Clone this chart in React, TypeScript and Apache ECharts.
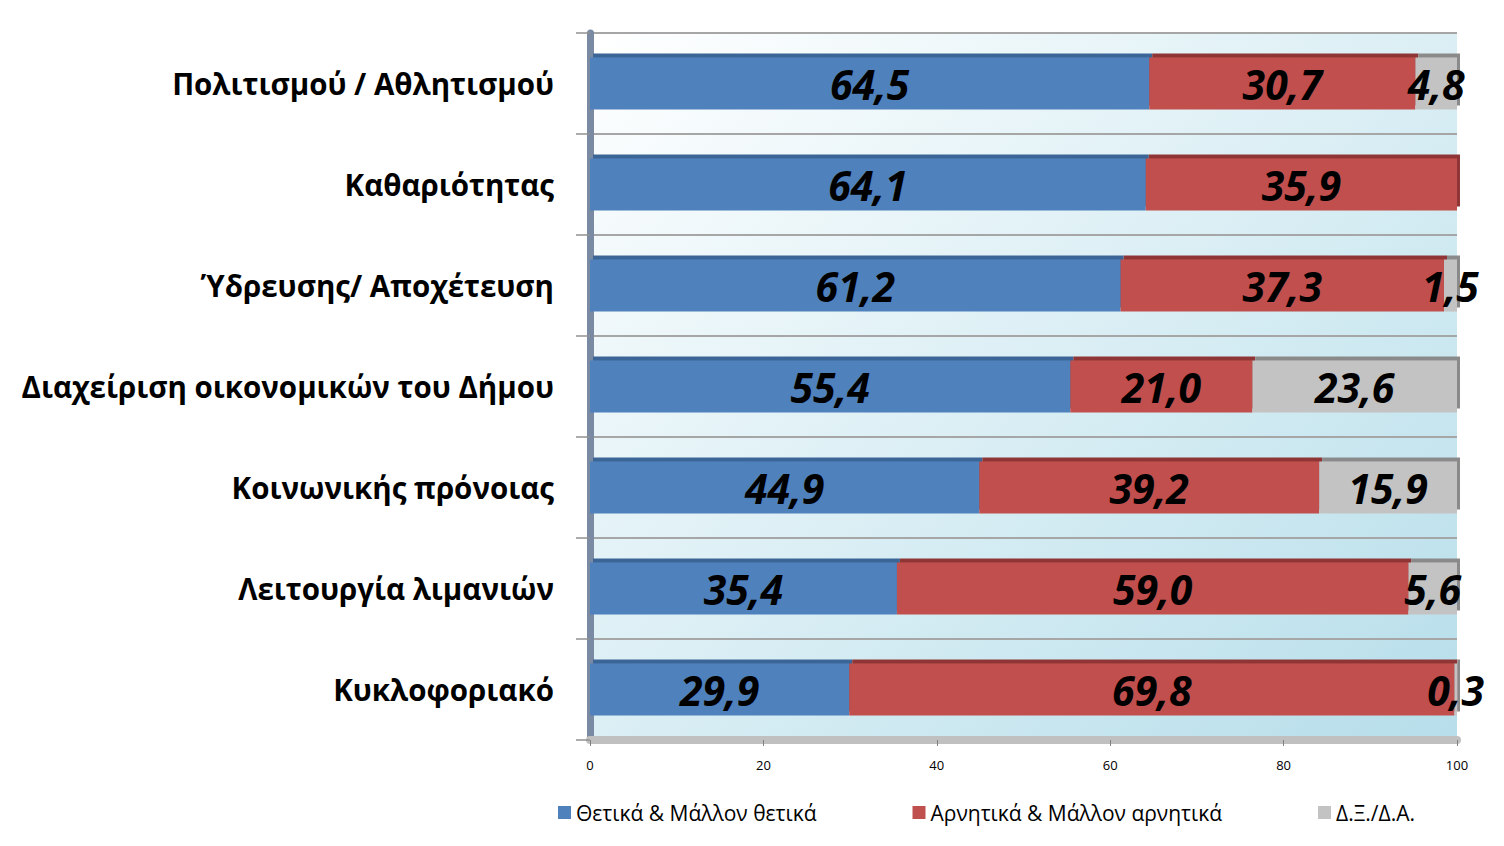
import React, { useEffect, useRef } from "react";
import * as echarts from "echarts";

const categories = [
  "Πολιτισμού / Αθλητισμού",
  "Καθαριότητας",
  "Ύδρευσης/ Αποχέτευση",
  "Διαχείριση οικονομικών του Δήμου",
  "Κοινωνικής πρόνοιας",
  "Λειτουργία λιμανιών",
  "Κυκλοφοριακό",
];
const positive = [64.5, 64.1, 61.2, 55.4, 44.9, 35.4, 29.9];
const negative = [30.7, 35.9, 37.3, 21.0, 39.2, 59.0, 69.8];
const dkna = [4.8, null, 1.5, 23.6, 15.9, 5.6, 0.3];
const seriesNames = [
  "Θετικά & Μάλλον θετικά",
  "Αρνητικά & Μάλλον αρνητικά",
  "Δ.Ξ./Δ.Α.",
];
const xTicks = { min: 0, max: 100, interval: 20 };

const FONT = "'Open Sans', 'Noto Sans', sans-serif";

export default function App() {
  const ref = useRef<HTMLDivElement>(null);
  useEffect(() => {
    if (!ref.current) return;
    const chart = echarts.init(ref.current, undefined, { renderer: "svg" });
    const fmt = (p: any) =>
      p.value == null ? "" : Number(p.value).toFixed(1).replace(".", ",");
    const mk = (name: string, data: any[], color: string, shadow: string) => ({
      name,
      type: "bar",
      stack: "total",
      data,
      barWidth: 52,
      itemStyle: {
        color,
        shadowColor: shadow,
        shadowBlur: 0,
        shadowOffsetX: 3,
        shadowOffsetY: -4,
      },
      label: {
        show: true,
        position: "inside",
        formatter: fmt,
        color: "#000",
        fontFamily: FONT,
        fontWeight: "bold",
        fontStyle: "italic",
        fontSize: 41,
      },
    });
    chart.setOption({
      animation: false,
      backgroundColor: "#ffffff",
      textStyle: { fontFamily: FONT },
      grid: {
        left: 590,
        right: 47,
        top: 33,
        bottom: 106,
        show: true,
        borderWidth: 0,
        backgroundColor: new echarts.graphic.LinearGradient(0, 0, 1, 1, [
          { offset: 0, color: "#ffffff" },
          { offset: 1, color: "#b6deea" },
        ]),
      },
      legend: {
        top: 797,
        left: 553,
        icon: "rect",
        itemWidth: 13,
        itemHeight: 13,
        itemGap: 96,
        textStyle: { fontSize: 21, color: "#000", fontFamily: FONT },
        data: seriesNames,
      },
      xAxis: {
        type: "value",
        min: xTicks.min,
        max: xTicks.max,
        interval: xTicks.interval,
        axisLine: { show: true, lineStyle: { color: "#c0c0c0", width: 8 } },
        axisTick: { show: true, length: 6, lineStyle: { color: "#808080" } },
        splitLine: { show: false },
        axisLabel: { color: "#000", fontSize: 13, margin: 18, fontFamily: FONT },
      },
      yAxis: {
        type: "category",
        inverse: true,
        data: categories,
        axisLine: { show: true, lineStyle: { color: "#7a8aa2", width: 7 } },
        axisTick: { show: true, length: 14, lineStyle: { color: "#909090", width: 1.5 } },
        splitLine: { show: true, lineStyle: { color: "#a6a6a6", width: 2 } },
        axisLabel: {
          color: "#000",
          fontSize: 29.5,
          fontWeight: "bold",
          margin: 36,
          fontFamily: FONT,
        },
      },
      series: [
        mk(seriesNames[0], positive, "#4f81bd", "#3b6596"),
        mk(seriesNames[1], negative, "#c0504d", "#8f3634"),
        mk(seriesNames[2], dkna, "#c3c3c3", "#8a8a8a"),
      ],
    });
    return () => chart.dispose();
  }, []);
  return (
    <div
      ref={ref}
      style={{ position: "absolute", left: 0, top: 0, width: 1504, height: 846 }}
    />
  );
}
